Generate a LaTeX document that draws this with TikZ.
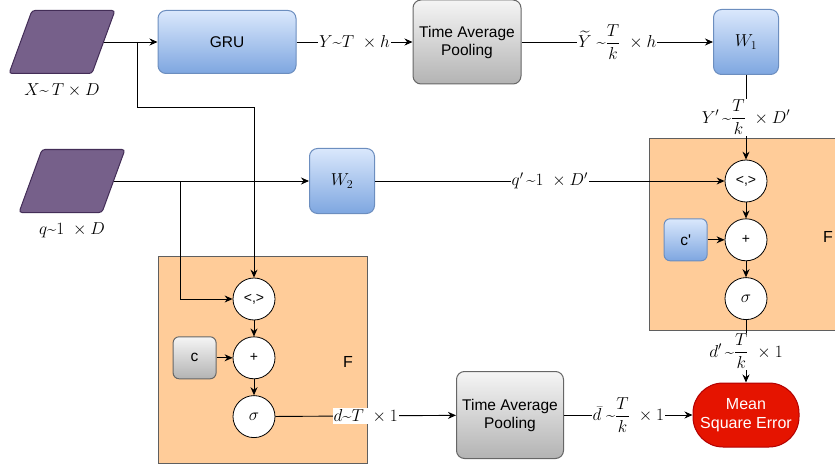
\documentclass[tikz,border=0pt]{standalone}
\usepackage{amsmath}
\usepackage{fontspec}
\newfontfamily\arialfont{Liberation Sans}
\usetikzlibrary{arrows.meta, positioning}

\definecolor{blueTop}{HTML}{DAE8FC}
\definecolor{blueBot}{HTML}{7EA6E0}
\definecolor{blueLine}{HTML}{6C8EBF}
\definecolor{grayTop}{HTML}{F5F5F5}
\definecolor{grayBot}{HTML}{B3B3B3}
\definecolor{grayLine}{HTML}{666666}
\definecolor{purpleFill}{HTML}{76608A}
\definecolor{purpleLine}{HTML}{432D57}
\definecolor{peachFill}{HTML}{FFCC99}
\definecolor{peachLine}{HTML}{5F5F5F}
\definecolor{redFill}{HTML}{E51400}
\definecolor{redLine}{HTML}{B20000}

\newcommand{\tld}{\text{\textasciitilde}}

\begin{document}
\begin{tikzpicture}[
    x=1pt, y=1pt,
    node distance=16pt,
    box/.style={rectangle, draw=blueLine, rounded corners=8pt, top color=blueTop, bottom color=blueBot, line width=1pt, align=center, font=\arialfont\fontsize{15.5}{18}\selectfont},
    graybox/.style={box, draw=grayLine, top color=grayTop, bottom color=grayBot},
    wbox/.style={box, minimum width=65pt, minimum height=65pt, font=\fontsize{18}{20}\selectfont},
    inbox/.style={rectangle, draw=purpleLine, fill=purpleFill, rounded corners=3pt, line width=1pt, minimum width=83pt, minimum height=63pt, xslant=0.365},
    fbox/.style={rectangle, draw=peachLine, fill=peachFill, line width=0.8pt},
    msebox/.style={rectangle, draw=redLine, fill=redFill, rounded corners=30pt, line width=1pt, text=white, align=center, font=\arialfont\fontsize{16}{19}\selectfont},
    op/.style={circle, draw, fill=white, minimum size=42pt, inner sep=0pt, line width=0.8pt, font=\arialfont\fontsize{14}{16}\selectfont},
    opsig/.style={op, font=\fontsize{17}{19}\selectfont},
    lbl/.style={fill=white, inner sep=1pt, font=\fontsize{16.5}{19}\selectfont},
    flab/.style={font=\arialfont\fontsize{16}{18}\selectfont},
    arrow/.style={->, >={Stealth[length=8pt, width=7pt]}, line width=0.9pt}
]
    \useasboundingbox (0,0) rectangle (835,-468);

    % F blocks
    \node[fbox, minimum width=209pt, minimum height=207pt] (fleft) at (262.5,-359.5) {};
    \node[fbox, minimum width=196pt, minimum height=192pt] (fright) at (747,-234) {};
    \node[flab] (fleftlab) at (348,-362) {F};
    \node[flab] (frightlab) at (828,-237) {F};

    % Inputs
    \node[inbox] (xin) at (62,-42) {};
    \node[lbl] (xlab) at (62,-90) {$X\tld\,T\times D$};
    \node[inbox] (qin) at (72,-181) {};
    \node[lbl] (qlab) at (72,-230) {$q\tld 1\ \times D$};

    % Top row
    \node[box, minimum width=138pt, minimum height=63pt] (gru) at (227,-42) {GRU};
    \node[graybox, minimum width=108pt, minimum height=84pt] (tap1) at (467,-42) {Time Average\\Pooling};
    \node[wbox] (w1) at (746,-42) {$W_1$};
    \node[wbox] (w2) at (342,-181) {$W_2$};

    % Right F
    \node[op] (ip2) at (746,-181) {<,>};
    \node[op, below=of ip2] (add2) {+};
    \node[opsig, below=of add2] (sig2) {$\sigma$};
    \node[box, rounded corners=6pt, minimum width=43pt, minimum height=42pt, left=17pt of add2] (c2) {c'};

    % Left F
    \node[op] (ip1) at (254,-299) {<,>};
    \node[op, below=of ip1] (add1) {+};
    \node[opsig, below=of add1] (sig1) {$\sigma$};
    \node[graybox, rounded corners=6pt, minimum width=43pt, minimum height=42pt, left=16pt of add1] (c1) {c};

    % Output
    \node[graybox, minimum width=107pt, minimum height=87pt] (tap2) at (510,-415) {Time Average\\Pooling};
    \node[msebox, minimum width=106pt, minimum height=64pt] (mse) at (746,-415) {Mean\\Square Error};

    \coordinate (xsplit) at (137,-42);
    \coordinate (qsplit) at (180,-181);

    % Arrows
    \draw[arrow] (xin) -- (gru);
    \draw[arrow] (gru) -- node[lbl] {$Y\tld T\ \times h$} (tap1);
    \draw[arrow] (tap1) -- node[lbl] {$\widetilde{Y}\;\tld\dfrac{T}{k}\ \times h$} (w1);
    \draw[arrow] (w1) -- node[lbl] {$Y'\,\tld\dfrac{T}{k}\ \times D'$} (ip2);
    \draw[arrow] (xsplit) -- ++(0,-65) -| (ip1);

    \draw[arrow] (qin) -- (w2);
    \draw[arrow] (qsplit) |- (ip1);
    \draw[arrow] (w2) -- node[lbl] {$q'\,\tld 1\ \times D'$} (ip2);

    \draw[arrow] (ip2) -- (add2);
    \draw[arrow] (c2) -- (add2);
    \draw[arrow] (add2) -- (sig2);
    \draw[arrow] (sig2) -- node[lbl] {$d'\,\tld\dfrac{T}{k}\ \times 1$} (mse);

    \draw[arrow] (ip1) -- (add1);
    \draw[arrow] (c1) -- (add1);
    \draw[arrow] (add1) -- (sig1);
    \draw[arrow] (sig1) -- node[lbl] {$d\tld T\ \times 1$} (tap2);
    \draw[arrow] (tap2) -- node[lbl] {$\bar{d}\;\tld\dfrac{T}{k}\ \times 1$} (mse);

\end{tikzpicture}
\end{document}
